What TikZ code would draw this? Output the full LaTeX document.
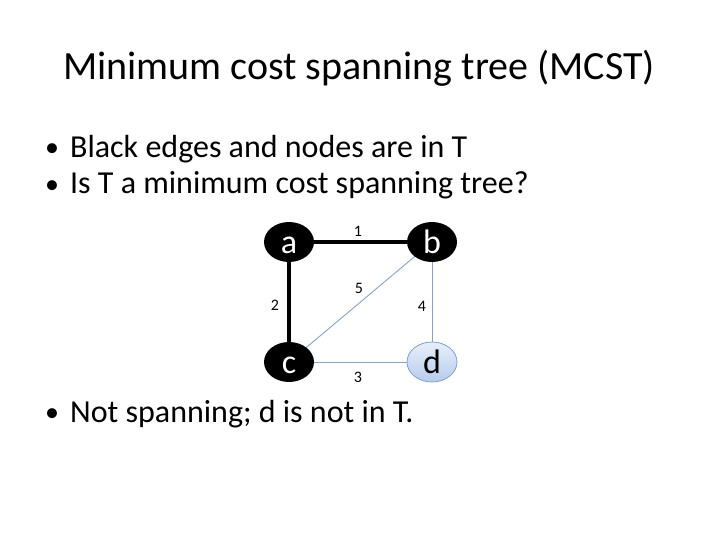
\documentclass[tikz,border=0pt]{standalone}
\usepackage{fontspec}
\setmainfont{Carlito}
\usetikzlibrary{shapes.geometric}
\definecolor{edgeblue}{HTML}{8AA2C2}
\definecolor{dborder}{HTML}{7F9ECF}
\definecolor{dtop}{HTML}{E8EFFA}
\definecolor{dbot}{HTML}{B6CBEC}
\tikzset{
  vert/.style={ellipse, minimum width=50pt, minimum height=40pt, inner sep=0pt,
    text height=23pt, text depth=1pt, font=\fontsize{34}{34}\selectfont},
  intree/.style={vert, fill=black, text=white},
  outtree/.style={vert, draw=dborder, line width=0.8pt, top color=dtop, bottom color=dbot, text=black},
  thickedge/.style={line width=4pt, black},
  lightedge/.style={line width=0.9pt, edgeblue},
  wlabel/.style={font=\fontsize{16}{16}\selectfont, inner sep=0pt},
  titletext/.style={font=\fontsize{40}{40}\selectfont, inner sep=0pt, anchor=base},
  bullettext/.style={font=\fontsize{32}{32}\selectfont, inner sep=0pt, anchor=base west},
}
\begin{document}
\begin{tikzpicture}[x=1pt,y=-1pt]
\useasboundingbox (0,0) rectangle (720,540);
\node[titletext] (title) at (359,80) {Minimum cost spanning tree (MCST)};
\node[bullettext] (b1) at (45,158) {\raisebox{1pt}{\fontsize{28}{28}\selectfont•}\hspace{11pt}Black edges and nodes are in T};
\node[bullettext] (b2) at (45,194) {\raisebox{1pt}{\fontsize{28}{28}\selectfont•}\hspace{11pt}Is T a minimum cost spanning tree?};
\node[bullettext] (b3) at (45,422) {\raisebox{1pt}{\fontsize{28}{28}\selectfont•}\hspace{11pt}Not spanning; d is not in T.};
% edges first
\coordinate (pa) at (289,242);
\coordinate (pb) at (432,242);
\coordinate (pc) at (289,362);
\coordinate (pd) at (432,362);
\draw[lightedge] (pc) -- (pb);
\draw[lightedge] (pb) -- (pd);
\draw[lightedge] (pc) -- (pd);
\draw[thickedge] (pa) -- (pb);
\draw[thickedge] (pa) -- (pc);
\node[intree] (a) at (pa) {a};
\node[intree] (b) at (pb) {b};
\node[intree] (c) at (pc) {c};
\node[outtree] (d) at (pd) {d};
\node[wlabel] (l1) at (358,231) {1};
\node[wlabel] (l5) at (359,288) {5};
\node[wlabel] (l2) at (275,305) {2};
\node[wlabel] (l4) at (422,306) {4};
\node[wlabel] (l3) at (358,377) {3};
\end{tikzpicture}
\end{document}
